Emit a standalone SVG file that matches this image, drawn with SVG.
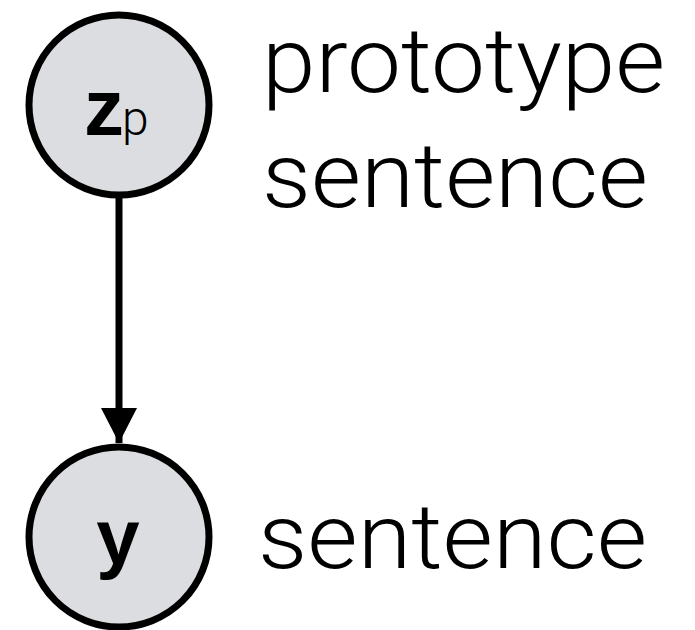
<svg xmlns="http://www.w3.org/2000/svg" width="695" height="630" viewBox="0 0 695 630">
  <defs>
    <style>
      .node { fill: #dcdde0; stroke: #000; stroke-width: 7; }
      .var { font-family: "Liberation Sans", Arial, sans-serif; font-weight: bold; fill: #000; }
      .sub { font-family: Roboto, "Liberation Sans", Arial, sans-serif; font-weight: 300; fill: #000; }
      .label { font-family: Roboto, "Liberation Sans", Arial, sans-serif; font-weight: 300; font-size: 91px; fill: #000; }
      .edge { stroke: #000; stroke-width: 7; fill: none; }
    </style>
    <marker id="arrow" markerUnits="userSpaceOnUse" markerWidth="36" markerHeight="36" refX="35" refY="18" orient="auto">
      <path d="M0,0 L35,18 L0,36 Z" fill="#000"/>
    </marker>
  </defs>
  <rect width="695" height="630" fill="#fff"/>

  <g id="connectors">
    <line class="edge" x1="119" y1="198" x2="119" y2="443" marker-end="url(#arrow)"/>
  </g>

  <g id="node-zp">
    <circle class="node" cx="119" cy="105" r="90"/>
    <text class="var" x="84" y="135" font-size="80">z</text>
    <text class="sub" x="122" y="135" font-size="48">p</text>
  </g>

  <g id="node-y">
    <circle class="node" cx="119" cy="537" r="90"/>
    <text class="var" x="118" y="564" font-size="78" text-anchor="middle">y</text>
  </g>

  <g id="labels">
    <text class="label" x="262" y="92" textLength="403" lengthAdjust="spacingAndGlyphs">prototype</text>
    <text class="label" x="262" y="207" textLength="386" lengthAdjust="spacingAndGlyphs">sentence</text>
    <text class="label" x="258" y="568" textLength="389" lengthAdjust="spacingAndGlyphs">sentence</text>
  </g>
</svg>
